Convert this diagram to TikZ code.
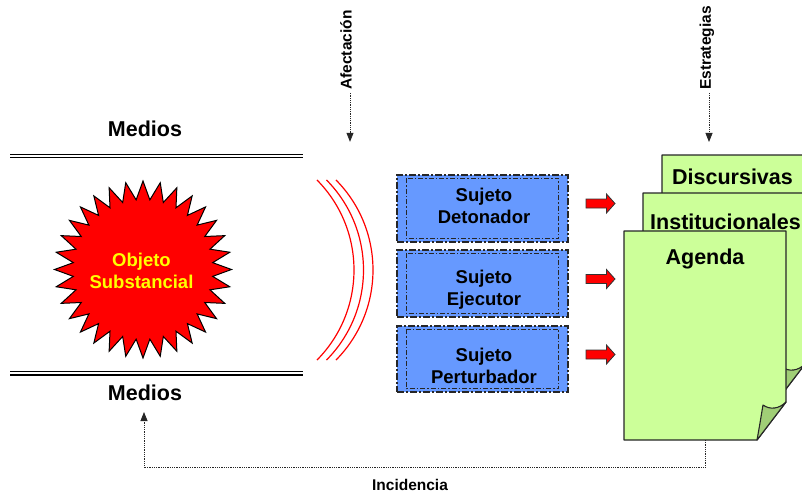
\documentclass[tikz,border=0pt]{standalone}
\usepackage{fontspec}
\setmainfont{Liberation Sans}
\usetikzlibrary{arrows.meta}
\definecolor{boxblue}{RGB}{102,153,255}
\definecolor{pagegreen}{RGB}{204,255,153}
\definecolor{flapgreen}{RGB}{160,206,118}
\definecolor{starred}{RGB}{255,0,0}
\definecolor{staryellow}{RGB}{255,255,0}
\begin{document}
\begin{tikzpicture}[x=1pt,y=-1pt,
  big/.style={font=\bfseries\fontsize{21.5}{25}\selectfont, inner sep=0pt},
  small/.style={font=\bfseries\fontsize{15.5}{18}\selectfont, inner sep=3pt},
  mid/.style={font=\bfseries\fontsize{18.5}{22}\selectfont, align=center, inner sep=0pt},
  sujetobox/.style={draw=black!85, line width=1.6pt, fill=boxblue,
    dash pattern=on 7pt off 2pt on 2pt off 2pt, minimum width=171pt, minimum height=67pt},
  innerdash/.style={draw=black!85, line width=0.7pt, dash pattern=on 5pt off 2pt on 1.5pt off 2pt},
  dotline/.style={draw=black!85, line width=0.8pt, densely dotted},
  tipa/.style={-{Triangle[width=7pt,length=9pt]}},
  arcline/.style={draw=red, line width=1.2pt},
  pageshape/.style={fill=pagegreen, draw=black!85, line width=1.3pt, line join=round},
  flapshape/.style={fill=flapgreen, draw=black!85, line width=1.1pt, line join=round},
  redarrow/.pic={\draw[fill=red, draw=black!80, line width=0.8pt, line join=miter]
     (-14.5,-4.5) -- (6,-4.5) -- (6,-9.5) -- (14.5,0) -- (6,9.5) -- (6,4.5) -- (-14.5,4.5) -- cycle;},
  docpage/.pic={
     \path[pageshape] (0,0) -- (162,0) -- (162,171) -- (133,209) -- (0,209) -- cycle;
     \path[flapshape] (162,171) .. controls (155,178) and (146,179) .. (139,174)
        .. controls (137,186) and (135,198) .. (133,209) -- cycle;}
]
\useasboundingbox (0,0) rectangle (802,493);
\clip (0,0) rectangle (802,493);

% Medios and double lines
\node[big] (m1) at (145,129) {Medios};
\node[big] (m2) at (145,393) {Medios};
\draw[line width=1.3pt] (10,154.5) -- (303,154.5);
\draw[line width=1.3pt] (10,157.8) -- (303,157.8);
\draw[line width=1.3pt] (10,371.8) -- (303,371.8);
\draw[line width=1.3pt] (10,375.1) -- (303,375.1);

% star
\coordinate (sc) at (143,269.5);
\draw[fill=starred, draw=black, line width=1pt, line join=miter]
  plot[samples=65, domain=0:64, variable=\k]
  ([shift={(sc)}] {90+\k*5.625}: {mod(\k,2)==0 ? 88.5 : 70}) -- cycle;
\node[mid, text=staryellow] (obj) at (141.5,271) {Objeto\\Substancial};

% arcs
\foreach \dx in {0,9.5,19}{
  \draw[arcline] (226+\dx,270) ++(44.7:128) arc[start angle=44.7, end angle=-44.7, radius=128];
}

% Afectacion
\node[small, rotate=90] (afe) at (346,50) {Afectación};
\draw[dotline, tipa] ([xshift=4pt]afe.west) -- ++(0,49);

% sujeto boxes
\node[sujetobox] (s1) at (482.5,208.5) {};
\node[sujetobox] (s2) at (482.5,283.5) {};
\node[sujetobox, minimum height=66pt] (s3) at (482.5,359) {};
\foreach \s in {s1,s2,s3}{
  \draw[innerdash] ([shift={(10,4)}]\s.north west) rectangle ([shift={(-10,-4)}]\s.south east);
}
\node[mid] (t1) at (484,205.5) {Sujeto\\Detonador};
\node[mid] (t2) at (484,290) {Sujeto\\Ejecutor};
\node[mid] (t3) at (484,365.5) {Sujeto\\Perturbador};

% red arrows
\pic at (600.5,203.5) {redarrow};
\pic at (600.5,279) {redarrow};
\pic at (600.5,354.5) {redarrow};

% pages
\pic at (662,155) {docpage};
\pic at (643,193) {docpage};
\pic at (624,231) {docpage};
\node[big] (d1) at (732.5,177) {Discursivas};
\node[big] (d2) at (725.5,222) {Institucionales};
\node[big] (d3) at (705,259) {Agenda};

% Estrategias
\node[small, rotate=90] (est) at (707,48) {Estrategias};
\draw[dotline, tipa] ([xshift=2pt]est.west) -- ++(0,49);

% Incidencia
\coordinate (p1b) at (705,440);
\coordinate (mtip) at (144,412);
\draw[dotline, tipa] (p1b) -- ++(0,27.5) -| (mtip);
\node[small] (inc) at (410,485) {Incidencia};
\end{tikzpicture}
\end{document}
